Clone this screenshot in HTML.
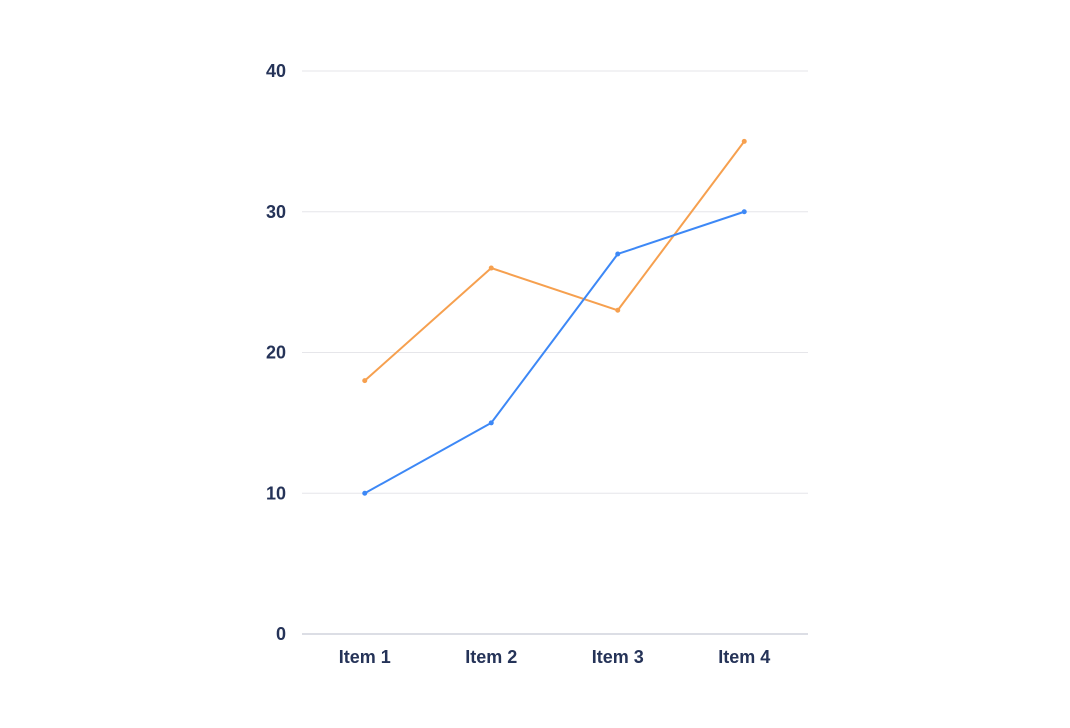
<!DOCTYPE html>
<html><head><meta charset="utf-8"><style>
html,body{margin:0;padding:0;background:#fff;width:1070px;height:728px;overflow:hidden}
svg text{font-family:"Liberation Sans",sans-serif;font-weight:bold;fill:#253358;font-size:18px}
</style></head><body>
<svg id="chart" width="1070" height="728" xmlns="http://www.w3.org/2000/svg"></svg>
<script>
const categories = ["Item 1","Item 2","Item 3","Item 4"];
const seriesOrange = [18,26,23,35];
const seriesBlue = [10,15,27,30];
const yTicks = [0,10,20,30,40];
const svg = document.getElementById('chart');
const NS = 'http://www.w3.org/2000/svg';
const x0 = 302, x1 = 808, yb = 634, yt = 71, ymax = 40;
const band = (x1 - x0) / categories.length;
function xs(i){ return x0 + band*(i+0.5) - 0.5; }
function ys(v){ return yb - (yb-yt)*v/ymax; }
function mk(tag, attrs){ const e=document.createElementNS(NS,tag); for(const k in attrs) e.setAttribute(k,attrs[k]); svg.appendChild(e); return e; }
yTicks.forEach(t=>{
  const l = mk('line',{x1:x0,x2:x1,y1:ys(t),y2:ys(t),stroke:t===0?'#b8bccb':'#e6e6ea','stroke-width':1});
  
  
  const tx = mk('text',{x:286,y:ys(t)+6,'text-anchor':'end'});
  tx.textContent = t;
  
  
});
categories.forEach((c,i)=>{
  const tx = mk('text',{x:xs(i),y:663,'text-anchor':'middle'});
  tx.textContent = c;
  
  
});
function drawSeries(vals,color,name){
  const p = mk('polyline',{points:vals.map((v,i)=>xs(i)+','+ys(v)).join(' '),fill:'none',stroke:color,'stroke-width':2});
  
  
  vals.forEach((v,i)=>{
    const c = mk('circle',{cx:xs(i),cy:ys(v),r:2.5,fill:color});
    
    
  });
}
drawSeries(seriesOrange,'#f6a04f','orange-series');
drawSeries(seriesBlue,'#3d88f6','blue-series');
</script>
</body></html>
